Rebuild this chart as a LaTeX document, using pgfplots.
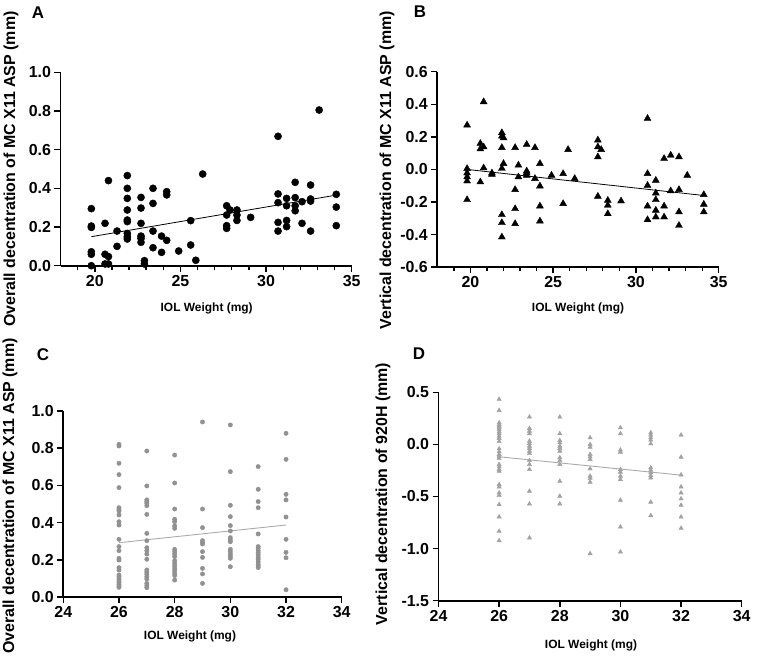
\documentclass[border=0pt]{standalone}
\usepackage{fontspec}
\setmainfont{Liberation Sans}
\usepackage{pgfplots}
\pgfplotsset{compat=1.18}
\definecolor{dotgray}{RGB}{145,145,145}
\definecolor{trigray}{RGB}{162,162,162}
\definecolor{linegray}{RGB}{170,170,170}
\pgfplotsset{
  gp/.style={
    scale only axis,
    anchor=south west,
    axis lines=left,
    axis line style={-, line width=1.8bp},
    tick align=outside,
    major tick length=6bp,
    minor tick length=4bp,
    tick style={black, line width=1.5bp},
    minor tick style={black, line width=1.3bp},
    tick label style={font=\fontsize{16}{16}\selectfont\bfseries},
    /pgf/number format/assume math mode=true,
    yticklabel style={/pgf/number format/fixed, /pgf/number format/fixed zerofill, /pgf/number format/precision=1},
    xlabel style={font=\fontsize{12}{12}\selectfont\bfseries, anchor=center},
    ylabel style={font=\fontsize{16}{16}\selectfont\bfseries, anchor=center},
    clip=false,
  }
}
\begin{document}
\begin{tikzpicture}
\path[use as bounding box] (0,0) rectangle (765bp,658bp);
% ---------------- A ----------------
\begin{axis}[gp, at={(60.5bp,392.3bp)}, width=291.2bp, height=193.4bp,
  xmin=18, xmax=35, ymin=0, ymax=1.0,
  xtick={20,25,30,35}, minor xtick={19,21,22,23,24,26,27,28,29,31,32,33,34},
  ytick={0,0.2,0.4,0.6,0.8,1.0},
  xlabel={IOL Weight (mg)}, ylabel={Overall decentration of MC X11 ASP (mm)},
  xlabel style={at={(axis description cs:0.502,-0.22)}},
  ylabel style={at={(axis description cs:-0.170,0.5)}}]
\addplot[only marks, mark=*, mark size=3.6pt, black] coordinates {
(19.8,0.295)(19.8,0.205)(19.8,0.198)(19.8,0.072)(19.8,0.059)(19.8,0.0)
(20.6,0.219)(20.6,0.059)(20.6,0.009)
(20.8,0.44)(20.8,0.047)(20.8,0.009)
(21.3,0.179)(21.3,0.1)
(21.9,0.466)(21.9,0.4)(21.9,0.348)(21.9,0.288)(21.9,0.236)(21.9,0.228)(21.9,0.167)(21.9,0.15)(21.9,0.138)
(22.7,0.353)(22.7,0.298)(22.7,0.219)(22.7,0.153)(22.7,0.141)(22.7,0.121)
(22.9,0.026)(22.9,0.009)
(23.4,0.4)(23.4,0.322)(23.4,0.179)(23.4,0.093)
(23.9,0.153)(23.9,0.069)
(24.2,0.383)(24.2,0.366)(24.2,0.131)
(24.9,0.076)
(25.6,0.233)(25.6,0.107)
(25.9,0.028)
(26.3,0.474)
(27.7,0.31)(27.7,0.262)(27.7,0.207)(27.7,0.193)
(27.9,0.288)
(28.3,0.288)(28.3,0.262)(28.3,0.234)
(29.1,0.25)
(30.7,0.669)(30.7,0.371)(30.7,0.326)(30.7,0.224)(30.7,0.179)
(31.2,0.348)(31.2,0.31)(31.2,0.234)(31.2,0.202)
(31.7,0.431)(31.7,0.352)(31.7,0.31)(31.7,0.284)
(32.1,0.331)(32.1,0.219)
(32.6,0.417)(32.6,0.345)(32.6,0.334)(32.6,0.179)
(33.1,0.805)
(34.1,0.369)(34.1,0.303)(34.1,0.207)
};
\addplot[black, line width=0.8bp] coordinates {(19.8,0.15)(34.1,0.365)};
\end{axis}
% ---------------- B ----------------
\begin{axis}[gp, at={(437.3bp,390.8bp)}, width=281.4bp, height=195.5bp,
  xmin=18, xmax=35, ymin=-0.6, ymax=0.6,
  xtick={20,25,30,35}, minor xtick={19,21,22,23,24,26,27,28,29,31,32,33,34},
  ytick={-0.6,-0.4,-0.2,0,0.2,0.4,0.6},
  xlabel={IOL Weight (mg)}, ylabel={Vertical decentration of MC X11 ASP (mm)},
  xlabel style={at={(axis description cs:0.5,-0.209)}},
  ylabel style={at={(axis description cs:-0.179,0.497)}}]
\addplot[only marks, mark=triangle*, mark size=4pt, black] coordinates {
(19.8,0.272)(19.8,0.005)(19.8,-0.022)(19.8,-0.046)(19.8,-0.071)(19.8,-0.186)
(20.6,0.159)(20.6,0.126)(20.6,-0.077)
(20.8,0.415)(20.8,0.138)(20.8,0.009)
(21.3,-0.022)(21.3,-0.03)
(21.9,0.225)(21.9,0.204)(22.0,0.194)(21.9,0.134)(22.0,0.036)(21.9,0.006)(21.9,-0.278)(21.9,-0.327)(21.9,-0.415)
(22.7,0.134)(22.7,-0.124)(22.7,-0.241)(22.7,-0.333)
(22.9,0.026)(22.9,-0.046)
(23.4,0.153)(23.4,-0.01)(23.4,-0.022)(23.4,-0.036)
(23.9,0.134)(23.9,-0.056)
(24.2,0.036)(24.2,-0.102)(24.2,-0.225)(24.2,-0.317)
(24.9,-0.036)
(25.6,-0.026)(25.6,-0.21)
(25.9,0.122)
(26.3,-0.056)
(27.7,0.18)(27.7,0.138)(27.7,0.077)(27.7,-0.165)
(27.9,0.122)
(28.3,-0.19)(28.3,-0.22)(28.3,-0.272)
(29.1,-0.194)
(30.7,0.313)(30.7,-0.026)(30.7,-0.098)(30.7,-0.225)(30.7,-0.309)
(31.2,-0.067)(31.2,-0.145)(31.2,-0.186)(31.2,-0.251)(31.2,-0.292)
(31.7,0.067)(31.7,-0.225)(31.7,-0.292)
(32.1,0.087)(32.1,-0.132)
(32.6,0.077)(32.6,-0.124)(32.6,-0.261)(32.6,-0.344)
(33.1,-0.036)
(34.1,-0.155)(34.1,-0.214)(34.1,-0.261)
};
\addplot[black, line width=0.8bp] coordinates {(19.8,0.0)(34.1,-0.16)};
\end{axis}
% ---------------- C ----------------
\begin{axis}[gp, at={(63.3bp,61bp)}, width=278.4bp, height=186bp,
  xmin=24, xmax=34, ymin=0, ymax=1.0,
  xtick={24,26,28,30,32,34},
  ytick={0,0.2,0.4,0.6,0.8,1.0},
  xlabel={IOL Weight (mg)}, ylabel={Overall decentration of MC X11 ASP (mm)},
  xlabel style={at={(axis description cs:0.455,-0.21)}},
  ylabel style={at={(axis description cs:-0.191,0.543)}}]
\addplot[only marks, mark=*, mark size=2.2pt, dotgray] coordinates {
(26,0.821)(26,0.812)(26,0.719)(26,0.658)(26,0.588)(26,0.48)(26,0.471)(26,0.462)(26,0.441)(26,0.405)(26,0.387)
(26,0.31)(26,0.271)(26,0.249)(26,0.208)(26,0.199)(26,0.158)(26,0.145)(26,0.118)(26,0.109)(26,0.097)
(26,0.086)(26,0.077)(26,0.068)(26,0.059)(26,0.052)
(27,0.785)(27,0.597)(27,0.522)(27,0.513)(27,0.504)(27,0.491)(27,0.444)(27,0.342)(27,0.303)(27,0.265)
(27,0.249)(27,0.231)(27,0.203)(27,0.145)(27,0.133)(27,0.122)(27,0.109)(27,0.097)(27,0.073)(27,0.061)(27,0.05)
(28,0.763)(28,0.613)(28,0.473)(28,0.418)(28,0.405)(28,0.382)(28,0.369)(28,0.256)(28,0.244)(28,0.231)
(28,0.217)(28,0.195)(28,0.181)(28,0.168)(28,0.154)(28,0.142)(28,0.127)(28,0.115)(28,0.091)
(29,0.941)(29,0.473)(29,0.373)(29,0.303)(29,0.292)(29,0.285)(29,0.244)(29,0.213)(29,0.154)(29,0.124)(29,0.073)
(30,0.925)(30,0.674)(30,0.493)(30,0.432)(30,0.384)(30,0.355)(30,0.319)(30,0.306)(30,0.297)(30,0.256)
(30,0.244)(30,0.231)(30,0.22)(30,0.208)(30,0.163)
(31,0.701)(31,0.579)(31,0.513)(31,0.48)(31,0.339)(31,0.271)(31,0.262)(31,0.249)(31,0.238)(31,0.226)
(31,0.213)(31,0.203)(31,0.19)(31,0.177)(31,0.167)(31,0.158)
(32,0.88)(32,0.74)(32,0.552)(32,0.522)(32,0.43)(32,0.31)(32,0.24)(32,0.211)(32,0.039)
};
\addplot[linegray, line width=0.9bp] coordinates {(26,0.292)(32,0.387)};
\end{axis}
% ---------------- D ----------------
\begin{axis}[gp, at={(438.5bp,57.3bp)}, width=303.2bp, height=208.4bp,
  xmin=24, xmax=34, ymin=-1.5, ymax=0.5,
  xtick={24,26,28,30,32,34},
  ytick={-1.5,-1.0,-0.5,0,0.5},
  xlabel={IOL Weight (mg)}, ylabel={Vertical decentration of 920H (mm)},
  xlabel style={at={(axis description cs:0.503,-0.213)}},
  ylabel style={at={(axis description cs:-0.183,0.512)}}]
\addplot[only marks, mark=triangle*, mark size=2.5pt, trigray] coordinates {
(26,0.433)(26,0.327)(26,0.208)(26,0.192)(26,0.176)(26,0.16)(26,0.144)(26,0.122)(26,0.103)(26,0.08)(26,0.058)
(26,0.03)(26,-0.042)(26,-0.07)(26,-0.096)(26,-0.112)(26,-0.135)(26,-0.192)(26,-0.215)(26,-0.24)(26,-0.256)
(26,-0.385)(26,-0.407)(26,-0.465)(26,-0.49)(26,-0.577)(26,-0.695)(26,-0.833)(26,-0.923)
(27,0.263)(27,0.154)(27,0.128)(27,0.103)(27,0.032)(27,0.01)(27,-0.016)(27,-0.038)(27,-0.064)(27,-0.087)
(27,-0.154)(27,-0.192)(27,-0.24)(27,-0.449)(27,-0.571)(27,-0.897)
(28,0.263)(28,0.103)(28,0.038)(28,0.016)(28,-0.016)(28,-0.038)(28,-0.064)(28,-0.128)(28,-0.154)(28,-0.192)
(28,-0.353)(28,-0.497)(28,-0.571)
(29,0.064)(29,0.0)(29,-0.026)(29,-0.096)(29,-0.119)(29,-0.144)(29,-0.234)(29,-0.304)(29,-0.327)(29,-0.362)(29,-1.048)
(30,0.16)(30,0.103)(30,-0.054)(30,-0.074)(30,-0.24)(30,-0.266)(30,-0.304)(30,-0.337)(30,-0.535)(30,-0.792)(30,-1.032)
(31,0.112)(31,0.09)(31,0.064)(31,0.042)(31,0.006)(31,-0.224)(31,-0.247)(31,-0.272)(31,-0.298)(31,-0.321)
(31,-0.554)(31,-0.683)
(32,0.09)(32,-0.122)(32,-0.292)(32,-0.407)(32,-0.465)(32,-0.522)(32,-0.583)(32,-0.696)(32,-0.804)
};
\addplot[linegray, line width=0.9bp] coordinates {(26,-0.119)(32,-0.295)};
\end{axis}
% panel letters
\node[font=\fontsize{17}{17}\selectfont\bfseries] at (38bp,645bp) {A};
\node[font=\fontsize{17}{17}\selectfont\bfseries] at (420bp,646bp) {B};
\node[font=\fontsize{17}{17}\selectfont\bfseries] at (43bp,303bp) {C};
\node[font=\fontsize{17}{17}\selectfont\bfseries] at (419bp,304bp) {D};
\end{tikzpicture}
\end{document}
